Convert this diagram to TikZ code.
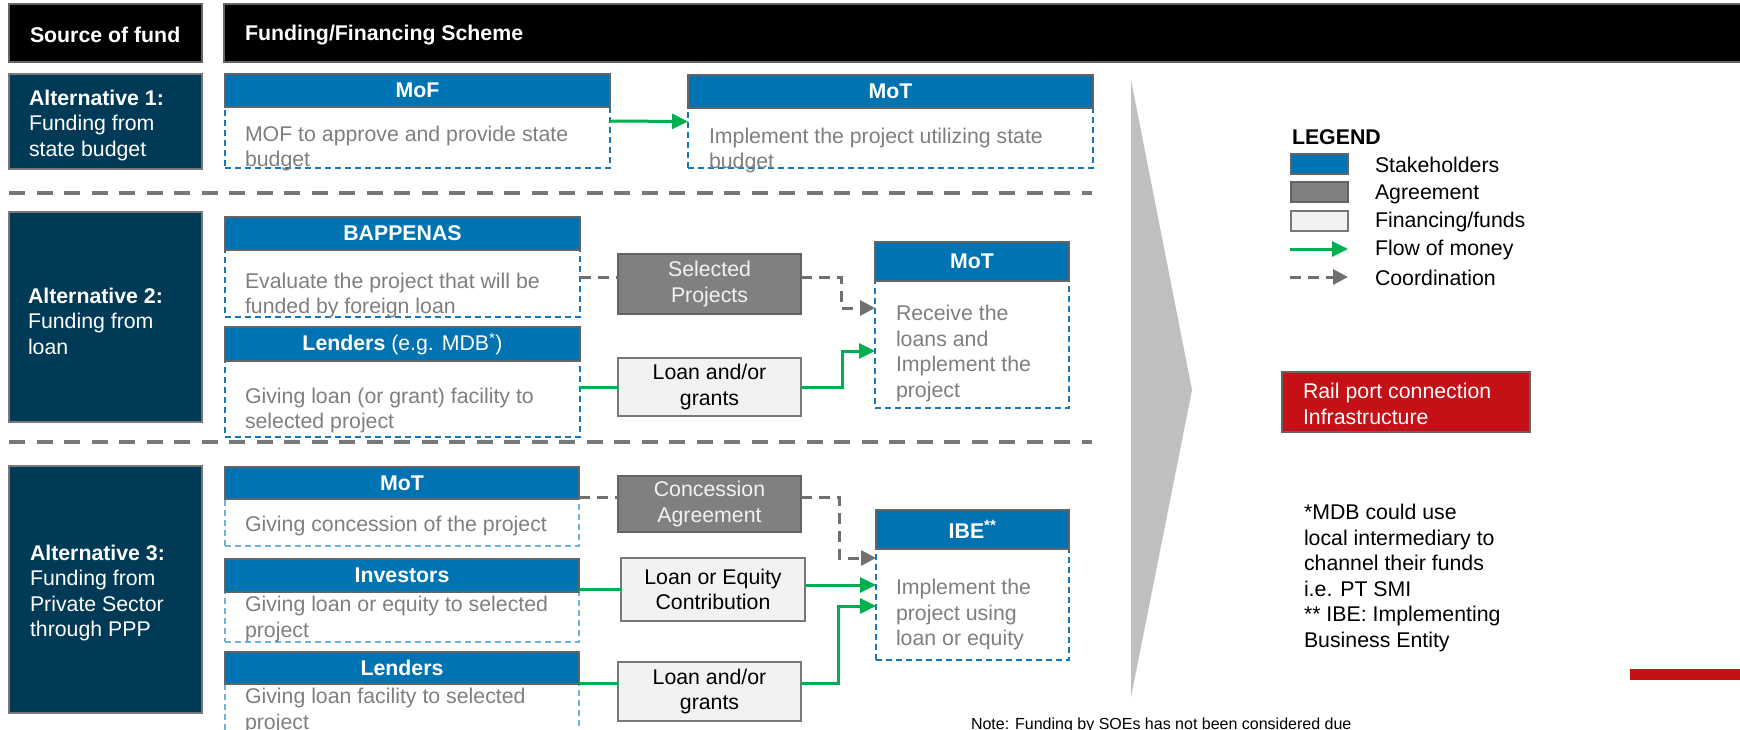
\documentclass[tikz,border=0pt]{standalone}
\usepackage{fontspec}
\setmainfont{Liberation Sans}
\usetikzlibrary{arrows.meta}
\definecolor{navy}{RGB}{0,58,87}
\definecolor{shblue}{RGB}{0,115,178}
\definecolor{dashblue}{RGB}{20,120,190}
\definecolor{lightdash}{RGB}{110,178,222}
\definecolor{bodygray}{RGB}{127,127,127}
\definecolor{agrgray}{RGB}{128,128,128}
\definecolor{agrborder}{RGB}{100,100,100}
\definecolor{finfill}{RGB}{242,242,242}
\definecolor{finborder}{RGB}{120,120,120}
\definecolor{moneygreen}{RGB}{0,176,80}
\definecolor{coordgray}{RGB}{112,112,112}
\definecolor{sepgray}{RGB}{120,120,120}
\definecolor{railred}{RGB}{196,16,22}
\definecolor{chevgray}{RGB}{191,191,191}
\definecolor{hdrborder}{RGB}{100,100,100}
\begin{document}
\begin{tikzpicture}[x=1pt,y=-1pt,
  every node/.style={inner sep=0pt, outer sep=0pt, font=\fontsize{21.3}{25.5}\selectfont},
  blk/.style={anchor=north west, draw},
  hdrbox/.style={blk, fill=black, draw=hdrborder, line width=1.5pt},
  hdrtext/.style={anchor=west, yshift=-2pt, text=white, font=\fontsize{21.3}{25.5}\selectfont\bfseries},
  altbox/.style={blk, fill=navy, draw=sepgray, line width=1.5pt},
  alttext/.style={anchor=west, yshift=-3pt, align=left, text=white},
  shead/.style={blk, fill=shblue, draw=hdrborder, line width=1.5pt, text=white, font=\fontsize{21.3}{25.5}\selectfont\bfseries},
  sbody/.style={blk, draw=dashblue, line width=1.8pt, dash pattern=on 6pt off 4pt},
  sbodylt/.style={sbody, draw=lightdash},
  btext/.style={anchor=west, yshift=-3pt, align=left, text=bodygray},
  agree/.style={blk, fill=agrgray, draw=agrborder, line width=1.5pt, text=finfill, align=center},
  fin/.style={blk, fill=finfill, draw=finborder, line width=1.5pt, text=black, align=center},
  money/.style={draw=moneygreen, line width=3pt, -{Triangle[length=16pt,width=15pt]}},
  moneyline/.style={draw=moneygreen, line width=3pt},
  coordn/.style={draw=coordgray, line width=3pt, dash pattern=on 11pt off 7pt, -{Triangle[length=15pt,width=15pt]}},
  coordline/.style={draw=coordgray, line width=3pt, dash pattern=on 11pt off 7pt},
  sepline/.style={draw=sepgray, line width=4pt, dash pattern=on 16pt off 11.5pt},
  legtext/.style={anchor=west, yshift=-1pt, text=black},
]
\useasboundingbox (0,0) rectangle (1740,729);
\clip (0,0) rectangle (1740,729);
\fill[white] (0,0) rectangle (1740,729);

% header bar
\node[hdrbox, minimum width=193, minimum height=58] (src) at (9,4) {};
\node[hdrtext] (srct) at (30,33) {Source of fund};
\node[hdrbox, minimum width=1525, minimum height=58] (fsch) at (224,4) {};
\node[hdrtext] (fscht) at (245,33) {Funding/Financing Scheme};

% chevron
\fill[chevgray] (1131,80) -- (1192,390) -- (1131,697) -- cycle;

% alternative boxes
\node[altbox, minimum width=193, minimum height=95] (alt1) at (9,74) {};
\node[alttext] (alt1t) at (29,122) {\textbf{Alternative 1:}\\Funding from\\state budget};
\node[altbox, minimum width=193, minimum height=210] (alt2) at (9,212) {};
\node[alttext] (alt2t) at (28,318) {\textbf{Alternative 2:}\\Funding from\\loan};
\node[altbox, minimum width=193, minimum height=247] (alt3) at (9,466) {};
\node[alttext] (alt3t) at (30,590) {\textbf{Alternative 3:}\\Funding from\\Private Sector\\through PPP};

% separators
\coordinate (s1a) at (9,193); \coordinate (s1b) at (1092,193);
\coordinate (s2a) at (9,442); \coordinate (s2b) at (1092,442);
\draw[sepline] (s1a) -- (s1b);
\draw[sepline] (s2a) -- (s2b);

% ---------- Alternative 1
\node[sbody, minimum width=385, minimum height=94] (mofb) at (225,74) {};
\node[shead, minimum width=385, minimum height=33] (mofh) at (225,74) {MoF};
\node[btext] (moft) at (245,145.5) {MOF to approve and provide state\\budget};

\node[sbody, minimum width=405, minimum height=93] (motab) at (688,75) {};
\node[shead, minimum width=405, minimum height=33] (motah) at (688,75) {MoT};
\node[btext] (motat) at (709,147.5) {Implement the project utilizing state\\budget};

\draw[money] (mofb.east) -- (motab.west);

% ---------- Alternative 2
\node[sbody, minimum width=355, minimum height=100] (bapb) at (225,217) {};
\node[shead, minimum width=355, minimum height=33] (baph) at (225,217) {BAPPENAS};
\node[btext] (bapt) at (245,292.5) {Evaluate the project that will be\\funded by foreign loan};

\node[sbody, minimum width=355, minimum height=110] (len2b) at (225,327) {};
\node[shead, minimum width=355, minimum height=34] (len2h) at (225,327) {Lenders \mdseries(e.g. MDB\textsuperscript{*})};
\node[btext] (len2t) at (245,407.5) {Giving loan (or grant) facility to\\selected project};

\node[agree, minimum width=183, minimum height=60] (sel) at (618,254) {Selected\\Projects};
\node[fin, minimum width=183, minimum height=58] (loan2) at (618,358) {Loan and/or\\grants};

\node[sbody, minimum width=194, minimum height=166] (motbb) at (875,242) {};
\node[shead, minimum width=194, minimum height=39] (motbh) at (875,242) {MoT};
\node[btext] (motbt) at (896,350.5) {Receive the\\loans and\\Implement the\\project};

\coordinate (c1) at ([yshift=7pt]sel.west);
\draw[coordline] (bapb.east |- c1) -- (c1);
\draw[coordn] ([yshift=7pt]sel.east) -- ++(40,0) |- ([yshift=17pt]motbb.west);
\draw[moneyline] (len2b.east |- loan2.west) -- (loan2.west);
\draw[money] (loan2.east) -- ++(41,0) |- ([yshift=-26pt]motbb.west);

% ---------- Alternative 3
\node[sbodylt, minimum width=354, minimum height=79] (mot3b) at (225,467) {};
\node[shead, minimum width=354, minimum height=32] (mot3h) at (225,467) {MoT};
\node[btext] (mot3t) at (245,523) {Giving concession of the project};

\node[sbodylt, minimum width=354, minimum height=83] (invb) at (225,559) {};
\node[shead, minimum width=354, minimum height=33] (invh) at (225,559) {Investors};
\node[btext] (invt) at (245,616) {Giving loan or equity to selected\\project};

\node[sbodylt, minimum width=354, minimum height=90] (len3b) at (225,652) {};
\node[shead, minimum width=354, minimum height=32] (len3h) at (225,652) {Lenders};
\node[btext] (len3t) at (245,708) {Giving loan facility to selected\\project};

\node[agree, minimum width=183, minimum height=56] (conc) at (618,476) {Concession\\Agreement};
\node[fin, minimum width=184, minimum height=63] (le) at (621,558) {Loan or Equity\\Contribution};
\node[fin, minimum width=183, minimum height=59] (loan3) at (618,662) {Loan and/or\\grants};

\node[sbody, minimum width=193, minimum height=150] (ibeb) at (876,510) {};
\node[shead, minimum width=193, minimum height=39] (ibeh) at (876,510) {IBE\textsuperscript{**}};
\node[btext] (ibet) at (896,611.5) {Implement the\\project using\\loan or equity};

\coordinate (c2) at ([yshift=7pt]conc.west);
\draw[coordline] (mot3b.east |- c2) -- (c2);
\draw[coordn] ([yshift=7pt]conc.east) -- ++(38,0) |- ([yshift=27pt]ibeb.west);
\draw[moneyline] (invb.east |- le.west) -- (le.west);
\draw[money] (le.east |- ibeb.west) -- (ibeb.west);
\coordinate (c3) at ([yshift=8.5pt]loan3.west);
\draw[moneyline] (len3b.east |- c3) -- (c3);
\draw[money] ([yshift=8.5pt]loan3.east) -- ++(37,0) |- ([yshift=-21pt]ibeb.west);

% ---------- Legend
\node[anchor=west, font=\fontsize{21.3}{25.5}\selectfont\bfseries] (legt) at (1292,137) {LEGEND};
\node[blk, fill=shblue, draw=hdrborder, line width=1.5pt, minimum width=57, minimum height=20] (lg1) at (1291,154) {};
\node[blk, fill=agrgray, draw=agrborder, line width=1.5pt, minimum width=57, minimum height=20] (lg2) at (1291,182) {};
\node[blk, fill=finfill, draw=finborder, line width=1.5pt, minimum width=57, minimum height=20] (lg3) at (1291,211) {};
\coordinate (lga1) at (1290,249); \coordinate (lgb1) at (1348,249);
\coordinate (lga2) at (1290,277); \coordinate (lgb2) at (1348,277);
\draw[money] (lga1) -- (lgb1);
\draw[coordn] (lga2) -- (lgb2);
\node[legtext] (lt1) at (1375,164) {Stakeholders};
\node[legtext] (lt2) at (1375,193) {Agreement};
\node[legtext] (lt3) at (1375,221) {Financing/funds};
\node[legtext] (lt4) at (1375,249) {Flow of money};
\node[legtext] (lt5) at (1375,277) {Coordination};

% ---------- Right side
\node[blk, fill=railred, draw=hdrborder, line width=1.5pt, minimum width=248, minimum height=60] (rail) at (1282,372) {};
\node[anchor=west, align=left, text=white] (railt) at (1303,404) {Rail port connection\\Infrastructure};

\node[anchor=west, align=left, text=black] (fn) at (1304,578) {*MDB could use\\local intermediary to\\channel their funds\\i.e. PT SMI\\** IBE: Implementing\\Business Entity};

\fill[railred] (1630,669) rectangle (1745,680);

\node[anchor=base west, font=\fontsize{16}{19}\selectfont] (note) at (971,729) {Note: Funding by SOEs has not been considered due};
\end{tikzpicture}
\end{document}
